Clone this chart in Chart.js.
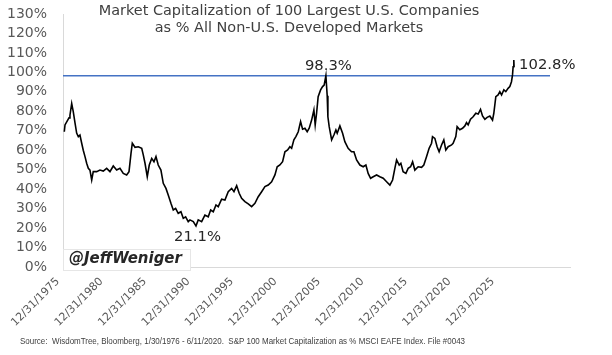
<!DOCTYPE html>
<html>
<head>
<meta charset="utf-8">
<script src="https://cdn.jsdelivr.net/npm/chart.js@4/dist/chart.umd.min.js"></script>
<style>
  html, body { margin: 0; padding: 0; background: #ffffff; }
  #wrap { width: 612px; height: 355px; position: relative; }
</style>
</head>
<body>
<div id="wrap"><canvas id="c" width="612" height="355"></canvas></div>
<script>
// ---------- DATA ----------
const titleLines = ["Market Capitalization of 100 Largest U.S. Companies", "as % All Non-U.S. Developed Markets"];
const sourceNote = "Source:  WisdomTree, Bloomberg, 1/30/1976 - 6/11/2020.  S&P 100 Market Capitalization as % MSCI EAFE Index. File #0043";
const handle = "@JeffWeniger";

// x-axis tick labels (years at 12/31)
const xTickYears = [1975, 1980, 1985, 1990, 1995, 2000, 2005, 2010, 2015, 2020, 2025];
// y-axis ticks (percent)
const yTickValues = [0, 10, 20, 30, 40, 50, 60, 70, 80, 90, 100, 110, 120, 130];

// series position along the printed date axis (as placed in the picture)
const seriesPos = [
  1975.15, 1975.23, 1975.54, 1975.69, 1975.80, 1976.00, 1976.18, 1976.38, 1976.57, 1976.76,
  1976.95, 1977.15, 1977.33, 1977.53, 1977.72, 1977.91, 1978.10, 1978.30, 1978.48, 1978.87,
  1979.25, 1979.63, 1980.02, 1980.40, 1980.78, 1981.17, 1981.55, 1981.93, 1982.32, 1982.59,
  1982.82, 1982.97, 1983.28, 1983.66, 1984.05, 1984.23, 1984.43, 1984.69, 1984.92, 1985.20,
  1985.46, 1985.69, 1985.95, 1986.26, 1986.53, 1986.84, 1987.10, 1987.41, 1987.68, 1987.95,
  1988.25, 1988.56, 1988.83, 1989.10, 1989.40, 1989.60, 1989.98, 1990.29, 1990.55, 1990.94,
  1991.32, 1991.70, 1991.98, 1992.28, 1992.59, 1992.85, 1993.24, 1993.62, 1994.00, 1994.39,
  1994.66, 1994.97, 1995.26, 1995.54, 1995.92, 1996.30, 1996.69, 1997.07, 1997.45, 1997.84,
  1998.22, 1998.60, 1998.99, 1999.37, 1999.63, 1999.94, 2000.25, 2000.52, 2000.83, 2001.09,
  2001.29, 2001.55, 2001.78, 2002.05, 2002.32, 2002.55, 2002.82, 2003.08, 2003.31, 2003.59,
  2003.85, 2004.00, 2004.16, 2004.34, 2004.62, 2004.85, 2005.03, 2005.23, 2005.38, 2005.46,
  2005.61, 2005.89, 2006.15, 2006.38, 2006.53, 2006.84, 2007.15, 2007.41, 2007.79, 2008.18,
  2008.45, 2008.76, 2009.14, 2009.52, 2009.83, 2010.09, 2010.37, 2010.67, 2011.06, 2011.44,
  2011.82, 2012.21, 2012.59, 2012.90, 2013.16, 2013.36, 2013.66, 2013.85, 2014.11, 2014.43,
  2014.69, 2014.97, 2015.20, 2015.46, 2015.84, 2016.23, 2016.49, 2016.80, 2017.10, 2017.38,
  2017.49, 2017.76, 2018.02, 2018.25, 2018.53, 2018.79, 2019.02, 2019.29, 2019.68, 2019.86,
  2020.17, 2020.32, 2020.63, 2020.94, 2021.21, 2021.40, 2021.59, 2021.86, 2022.16, 2022.47,
  2022.74, 2023.01, 2023.24, 2023.51, 2023.77, 2024.08, 2024.39, 2024.54, 2024.77, 2025.03,
  2025.23, 2025.43, 2025.69, 2025.92, 2026.18, 2026.38, 2026.57, 2026.69, 2026.76, 2026.84,
  2026.87
];
// S&P 100 market cap as % of MSCI EAFE
const seriesPct = [
  69.5, 73.0, 75.5, 76.6, 78.0, 84.0, 79.8, 74.0, 68.8, 67.0,
  67.8, 63.6, 60.0, 56.7, 53.3, 50.7, 49.8, 44.7, 49.0, 49.0,
  49.8, 49.3, 50.7, 49.0, 51.9, 49.8, 50.7, 48.1, 47.3, 49.0,
  58.4, 63.6, 61.5, 61.8, 61.0, 57.6, 53.3, 46.4, 52.4, 55.8,
  54.1, 56.7, 52.4, 49.8, 43.0, 40.4, 37.0, 32.7, 29.3, 30.1,
  27.6, 28.4, 25.0, 25.8, 23.3, 24.2, 23.3, 21.1, 24.2, 23.3,
  26.7, 25.8, 29.3, 28.4, 31.9, 31.0, 34.8, 34.4, 38.7, 40.4,
  38.7, 41.8, 37.9, 35.3, 33.6, 32.4, 31.0, 32.7, 36.1, 38.7,
  41.3, 42.1, 43.8, 47.3, 51.5, 52.4, 54.1, 59.2, 60.1, 61.8,
  61.0, 65.3, 67.0, 69.5, 74.7, 70.8, 71.3, 69.5, 71.3, 75.5,
  80.7, 73.0, 79.0, 87.5, 91.0, 92.7, 93.5, 98.3, 88.0, 77.2,
  72.1, 65.3, 67.8, 70.4, 68.7, 72.5, 68.7, 64.4, 61.0, 59.2,
  59.2, 55.0, 52.4, 51.5, 52.4, 48.1, 45.6, 46.4, 47.3, 46.4,
  45.6, 43.8, 42.1, 44.7, 50.7, 55.0, 52.4, 53.3, 49.0, 48.1,
  50.7, 51.5, 54.1, 49.8, 51.5, 51.2, 52.4, 56.7, 61.0, 63.6,
  67.0, 66.1, 61.8, 59.2, 62.7, 65.3, 60.1, 61.8, 62.7, 63.6,
  67.0, 72.1, 70.5, 71.3, 72.5, 74.2, 73.0, 75.9, 77.2, 79.0,
  78.6, 81.0, 77.6, 75.9, 76.9, 77.6, 75.5, 79.0, 87.5, 88.4,
  90.1, 88.4, 91.0, 90.1, 91.8, 92.7, 95.2, 98.7, 102.9, 106.4,
  102.8
];

// reference line level and span
const refLevel = 98.3;
const refSpan = [1975, 2031];
// visible axis range
const xRange = [1975, 2033.3];
const yRange = [0, 130];

// ---------- CHART ----------
const FONT = "'DejaVu Sans', sans-serif";
const TICK_COLOR = '#595959';
const AXIS_COLOR = '#d9d9d9';

function fitFont(ctx, text, style, family, base, target) {
  ctx.font = style + ' ' + base + 'px ' + family;
  const w = ctx.measureText(text).width;
  const size = base * target / w;
  ctx.font = style + ' ' + size + 'px ' + family;
  return size;
}

const textPlugin = {
  id: 'texts',
  afterDraw(chart) {
    const ctx = chart.ctx;
    const xs = chart.scales.x, ys = chart.scales.y;
    ctx.save();
    // title
    ctx.fillStyle = '#404040';
    ctx.textAlign = 'center';
    ctx.textBaseline = 'alphabetic';
    const ts = fitFont(ctx, titleLines[0], 'normal', FONT, 14, 381);
    ctx.fillText(titleLines[0], 289, 15);
    ctx.font = 'normal ' + ts + 'px ' + FONT;
    ctx.fillText(titleLines[1], 289, 31.7);

    // annotations
    ctx.fillStyle = '#262626';
    let iPeak = 0, iLow = 0;
    for (let i = 0; i < seriesPos.length; i++) {
      if (seriesPos[i] < 2010 && seriesPct[i] > seriesPct[iPeak]) iPeak = i;
      if (seriesPos[i] > 1985 && seriesPos[i] < 2000 && (iLow === 0 || seriesPct[i] < seriesPct[iLow])) iLow = i;
    }
    const iLast = seriesPos.length - 1;
    fitFont(ctx, seriesPct[iPeak].toFixed(1) + '%', 'normal', FONT, 14, 47);
    ctx.textAlign = 'center';
    ctx.fillText(seriesPct[iPeak].toFixed(1) + '%', xs.getPixelForValue(seriesPos[iPeak]) + 2.5, ys.getPixelForValue(seriesPct[iPeak]) - 6);
    ctx.fillText(seriesPct[iLow].toFixed(1) + '%', xs.getPixelForValue(seriesPos[iLow]) + 1.5, ys.getPixelForValue(seriesPct[iLow]) + 15);
    ctx.textAlign = 'left';
    ctx.fillText(seriesPct[iLast].toFixed(1) + '%', xs.getPixelForValue(seriesPos[iLast]) + 5, ys.getPixelForValue(seriesPct[iLast]) + 2);

    // handle box
    ctx.fillStyle = '#ffffff';
    ctx.strokeStyle = '#e6e6e6';
    ctx.lineWidth = 1;
    ctx.fillRect(63.5, 249.5, 127, 21);
    ctx.strokeRect(63.5, 249.5, 127, 21);
    ctx.fillStyle = '#262626';
    fitFont(ctx, handle, 'italic bold', FONT, 13, 113);
    ctx.fillText(handle, 69, 262.5);

    // source (Calibri-like: narrow glyphs, compressed horizontally to the printed width)
    ctx.fillStyle = '#404040';
    ctx.textAlign = 'left';
    ctx.font = 'normal 9.5px "Liberation Sans", sans-serif';
    const sw = ctx.measureText(sourceNote).width;
    ctx.translate(20, 344);
    ctx.scale(445 / sw, 1);
    ctx.fillText(sourceNote, 0, 0);
    ctx.restore();
  }
};

new Chart(document.getElementById('c'), {
  type: 'line',
  data: {
    datasets: [
      {
        data: seriesPos.map((x, i) => ({ x: x, y: seriesPct[i] })),
        borderColor: '#000000',
        borderWidth: 1.6,
        pointRadius: 0,
        tension: 0,
        fill: false
      },
      {
        data: refSpan.map(x => ({ x: x, y: refLevel })),
        borderColor: '#4472C4',
        borderWidth: 1.5,
        pointRadius: 0,
        fill: false
      }
    ]
  },
  options: {
    responsive: false,
    animation: false,
    devicePixelRatio: 1,
    layout: { autoPadding: false, padding: { top: 14, right: 42, left: 0, bottom: 0 } },
    plugins: { legend: { display: false }, tooltip: { enabled: false }, title: { display: false } },
    scales: {
      x: {
        type: 'linear',
        min: xRange[0], max: xRange[1],
        afterFit(scale) { scale.height = 88; scale.paddingLeft = 0; scale.paddingRight = 0; scale.paddingTop = 0; scale.paddingBottom = 0; },
        afterBuildTicks(scale) { scale.ticks = xTickYears.map(v => ({ value: v })); },
        grid: { display: false, drawTicks: false },
        border: { display: true, color: AXIS_COLOR, width: 1 },
        ticks: {
          autoSkip: false,
          minRotation: 45, maxRotation: 45,
          padding: 8,
          labelOffset: -5,
          color: TICK_COLOR,
          font: { family: FONT, size: 11 },
          callback: v => '12/31/' + v
        }
      },
      y: {
        type: 'linear',
        min: yRange[0], max: yRange[1],
        afterFit(scale) { scale.width = 63; scale.paddingTop = 0; scale.paddingBottom = 0; scale.paddingLeft = 0; scale.paddingRight = 0; },
        afterBuildTicks(scale) { scale.ticks = yTickValues.map(v => ({ value: v })); },
        grid: { display: false, drawTicks: false },
        border: { display: true, color: AXIS_COLOR, width: 1 },
        ticks: {
          autoSkip: false,
          padding: 16,
          color: TICK_COLOR,
          font: { family: FONT, size: 14 },
          callback: v => v + '%'
        }
      }
    }
  },
  plugins: [textPlugin]
});
</script>
</body>
</html>
